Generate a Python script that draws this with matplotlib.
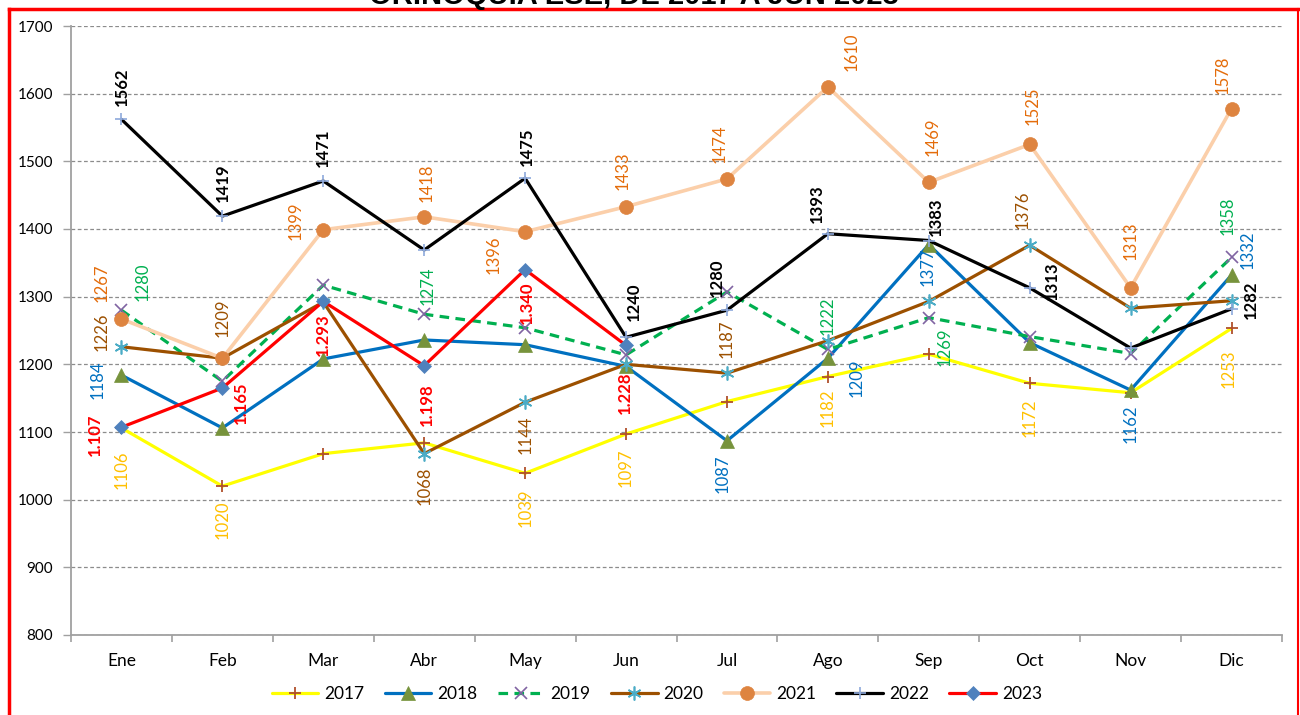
import matplotlib
matplotlib.use('Agg')
import matplotlib.pyplot as plt

# ---------------- data ----------------
months = ['Ene', 'Feb', 'Mar', 'Abr', 'May', 'Jun', 'Jul', 'Ago', 'Sep', 'Oct', 'Nov', 'Dic']
y2017 = [1106, 1020, 1068, 1084, 1039, 1097, 1145, 1182, 1215, 1172, 1158, 1253]
y2018 = [1184, 1106, 1208, 1236, 1229, 1197, 1087, 1209, 1377, 1232, 1162, 1332]
y2019 = [1280, 1175, 1317, 1274, 1254, 1214, 1307, 1222, 1269, 1241, 1216, 1358]
y2020 = [1226, 1209, 1292, 1068, 1144, 1200, 1187, 1235, 1293, 1376, 1283, 1294]
y2021 = [1267, 1209, 1399, 1418, 1396, 1433, 1474, 1610, 1469, 1525, 1313, 1578]
y2022 = [1562, 1419, 1471, 1369, 1475, 1240, 1280, 1393, 1383, 1313, 1224, 1282]
y2023 = [1107, 1165, 1293, 1198, 1340, 1228]
series_names = ['2017', '2018', '2019', '2020', '2021', '2022', '2023']
yticks = [800, 900, 1000, 1100, 1200, 1300, 1400, 1500, 1600, 1700]
title = 'ORINOQUIA ESE, DE 2017 A JUN 2023'

# ---------------- styles ----------------
styles = {
    '2017': dict(color='#FFFF00', lw=2.3, ls='-', marker='+', ms=9, mfc='#B0502C', mec='#B0502C', mew=1.3),
    '2018': dict(color='#0070C0', lw=2.3, ls='-', marker='^', ms=10, mfc='#77933C', mec='#77933C', mew=0.5),
    '2019': dict(color='#00B050', lw=2.3, ls=(0, (3, 2)), marker='x', ms=8, mfc='#8064A2', mec='#8064A2', mew=1.2),
    '2020': dict(color='#9C5000', lw=2.3, ls='-', marker=(6, 2, 0), ms=10, mfc='#4BACC6', mec='#4BACC6', mew=1.2),
    '2021': dict(color='#FBCFAA', lw=2.6, ls='-', marker='o', ms=10, mfc='#DE8440', mec='#DE8440', mew=0.5),
    '2022': dict(color='#000000', lw=2.3, ls='-', marker='+', ms=9, mfc='#8EA9DB', mec='#8EA9DB', mew=1.2),
    '2023': dict(color='#FF0000', lw=2.3, ls='-', marker='D', ms=7.5, mfc='#4F81BD', mec='#4F81BD', mew=0.5),
}
label_colors = {
    '2017': '#FFC000', '2018': '#0070C0', '2019': '#00B050', '2020': '#9C5000',
    '2021': '#E46C0A', '2022': '#000000', '2023': '#FF0000',
}
label_weight = {'2022': 'bold', '2023': 'bold'}

# label offsets in pixels (dx, dy) for the labelled months
label_offsets = {
    '2017': {0: (0, -42), 1: (0, -34), 4: (0, -34), 5: (0, -34), 7: (0, -31), 9: (0, -34), 11: (-3, -40)},
    '2018': {0: (-24, -5), 6: (-4, -33), 7: (29, -20), 8: (-1, -22), 10: (0, -34), 11: (16, 25)},
    '2019': {0: (21, 28), 3: (3, 29), 7: (0, 34), 8: (16, -29), 11: (-4, 42)},
    '2020': {0: (-20, 15), 1: (0, 40), 3: (0, -32), 4: (0, -33), 6: (0, 34), 9: (-7, 35)},
    '2021': {0: (-20, 36), 2: (-28, 9), 3: (2, 34), 4: (-32, -23), 5: (-3, 36), 6: (-7, 35),
             7: (24, 35), 8: (4, 46), 9: (3, 39), 10: (0, 47), 11: (-9, 34)},
    '2022': {0: (0, 33), 1: (0, 33), 2: (0, 33), 4: (2, 32), 5: (8, 36), 6: (-10, 32),
             7: (-11, 30), 8: (7, 24), 9: (22, 7), 11: (19, 9)},
    '2023': {0: (-27, -7), 1: (18, -15), 2: (0, -33), 3: (3, -39), 4: (2, -33), 5: (-1, -47)},
}

FONT = 'Lato'
plt.rcParams['font.family'] = [FONT, 'DejaVu Sans']

fig = plt.figure(figsize=(13, 7.15), dpi=100)
fig.patch.set_facecolor('white')

W, H = 1300, 715
ax = fig.add_axes([71 / W, 1 - 635 / H, (1282 - 71) / W, (635 - 26) / H])

data = {'2017': y2017, '2018': y2018, '2019': y2019, '2020': y2020,
        '2021': y2021, '2022': y2022, '2023': y2023}

handles = []
for z, name in enumerate(series_names):
    vals = data[name]
    xs = list(range(len(vals)))
    st = styles[name]
    ln, = ax.plot(xs, vals, color=st['color'], lw=st['lw'], ls=st['ls'],
                  marker=st['marker'], ms=st['ms'], mfc=st['mfc'], mec=st['mec'],
                  mew=st['mew'], zorder=3 + z, label=name, solid_capstyle='round',
                  dash_capstyle='butt')
    handles.append(ln)
    for i, (dx, dy) in label_offsets[name].items():
        v = vals[i]
        txt = f'{v:,}'.replace(',', '.') if name == '2023' else str(v)
        ax.annotate(txt, xy=(i, v), xytext=(dx, dy), textcoords='offset pixels',
                    rotation=90, ha='center', va='center', fontsize=12,
                    color=label_colors[name], fontweight=label_weight.get(name, 'normal'),
                    zorder=20)

ax.set_xlim(-0.5, 11.5)
ax.set_ylim(800, 1700)
ax.set_yticks(yticks)
ax.set_yticklabels([str(t) for t in yticks], fontsize=11, color='#000000')
ax.set_xticks(range(12))
ax.set_xticklabels(months, fontsize=12.5, color='#000000')
ax.set_xticks([i - 0.5 for i in range(13)], minor=True)
ax.tick_params(axis='x', which='major', length=0, pad=13)
ax.tick_params(axis='x', which='minor', length=5, width=1.2, color='#A0A0A0', direction='out')
ax.tick_params(axis='y', which='major', length=6, width=1.0, color='#A0A0A0', direction='out', pad=7)

ax.yaxis.grid(True, color='#8C8C8C', ls=(0, (3, 2)), lw=0.9)
ax.set_axisbelow(True)
for s in ['top', 'right']:
    ax.spines[s].set_visible(False)
for s in ['left', 'bottom']:
    ax.spines[s].set_color('#A0A0A0')
    ax.spines[s].set_linewidth(1.3)

leg = fig.legend(handles=handles, labels=series_names, loc='center',
                 bbox_to_anchor=(657 / W, 1 - 694 / H), ncol=7, frameon=False,
                 fontsize=12.5, handlelength=2.7, handletextpad=0.35, columnspacing=1.15,
                 numpoints=1)

# red frame
fig.add_artist(plt.Line2D([9 / W, 1298 / W], [1 - 9 / H, 1 - 9 / H], color='#FF0000', lw=2.5,
                          transform=fig.transFigure))
fig.add_artist(plt.Line2D([9 / W, 9 / W], [1 - 9 / H, 0], color='#FF0000', lw=2.5,
                          transform=fig.transFigure))
fig.add_artist(plt.Line2D([1298 / W, 1298 / W], [1 - 9 / H, 0], color='#FF0000', lw=1.5,
                          transform=fig.transFigure))

# title (cut off by the top edge, as in the reference)
fig.text(634 / W, 1 - 4 / H, title, ha='center', va='baseline', fontsize=21,
         fontweight='bold', family='Liberation Sans', color='#000000')

fig.savefig('out.png', dpi=100, facecolor='white')
